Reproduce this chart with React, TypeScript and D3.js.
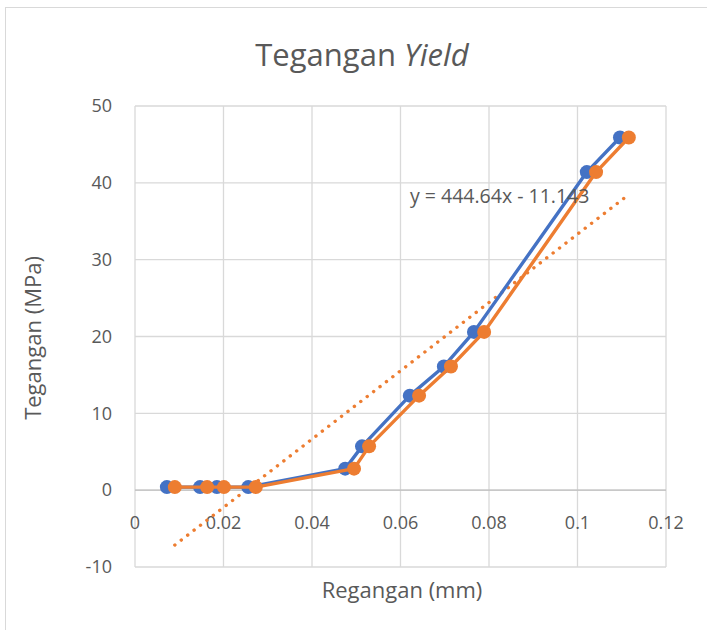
import React, { useEffect, useRef } from "react";
import * as d3 from "d3";

// Regangan (x) and Tegangan (y)
const blueX = [0.0072, 0.0147, 0.0185, 0.0256, 0.0475, 0.0513, 0.0621, 0.0698, 0.0766, 0.1021, 0.1096];
const blueY = [0.4, 0.4, 0.4, 0.4, 2.8, 5.7, 12.3, 16.1, 20.6, 41.4, 45.9];
const orangeX = [0.0090, 0.0163, 0.0201, 0.0273, 0.0495, 0.0529, 0.0642, 0.0714, 0.0789, 0.1042, 0.1116];
const orangeY = [0.4, 0.4, 0.4, 0.4, 2.8, 5.7, 12.3, 16.1, 20.6, 41.4, 45.9];

// trendline of the orange series
const slope = 444.64;
const intercept = -11.143;

const xTicks = [0, 0.02, 0.04, 0.06, 0.08, 0.1, 0.12];
const yTicks = [-10, 0, 10, 20, 30, 40, 50];

const width = 707;
const height = 630;
const margin = { top: 106, right: 41, bottom: 63, left: 135 };
const font = "'Open Sans', sans-serif";
const textColor = "#595959";

const drawChart = (svgEl: SVGSVGElement) => {
    const svg = d3.select(svgEl);
    svg.selectAll("*").remove();

    const x = d3.scaleLinear().domain([0, 0.12]).range([margin.left, width - margin.right]);
    const y = d3.scaleLinear().domain([-10, 50]).range([height - margin.bottom, margin.top]);

    // chart frame
    svg.append("rect")
        .attr("x", 5.5).attr("y", 7.5)
        .attr("width", 760).attr("height", 700)
        .attr("fill", "white").attr("stroke", "#d9d9d9");

    // gridlines
    svg.append("g").selectAll("line").data(yTicks).enter().append("line")
        .attr("x1", x(0)).attr("x2", x(0.12))
        .attr("y1", d => y(d)).attr("y2", d => y(d))
        .attr("stroke", "#d9d9d9").attr("stroke-width", 1.3);
    svg.append("g").selectAll("line").data(xTicks).enter().append("line")
        .attr("x1", d => x(d)).attr("x2", d => x(d))
        .attr("y1", y(-10)).attr("y2", y(50))
        .attr("stroke", "#d9d9d9").attr("stroke-width", 1.3);

    // axis line at y = 0
    svg.append("line")
        .attr("x1", x(0)).attr("x2", x(0.12))
        .attr("y1", y(0)).attr("y2", y(0))
        .attr("stroke", "#bfbfbf").attr("stroke-width", 1.3);

    // tick labels
    svg.append("g").selectAll("text").data(yTicks).enter().append("text")
        .attr("x", x(0) - 23).attr("y", d => y(d)).attr("dy", "0.35em")
        .attr("text-anchor", "end")
        .attr("font-family", font).attr("font-size", 18).attr("fill", textColor)
        .text(d => d);
    svg.append("g").selectAll("text").data(xTicks).enter().append("text")
        .attr("x", d => x(d)).attr("y", y(0) + 39)
        .attr("text-anchor", "middle")
        .attr("font-family", font).attr("font-size", 18).attr("fill", textColor)
        .text(d => d);

    // trendline (dotted)
    const tx = d3.extent(orangeX) as [number, number];
    svg.append("line")
        .attr("x1", x(tx[0])).attr("y1", y(slope * tx[0] + intercept))
        .attr("x2", x(tx[1])).attr("y2", y(slope * tx[1] + intercept))
        .attr("stroke", "#ed7d31").attr("stroke-width", 3.4)
        .attr("stroke-linecap", "round").attr("stroke-dasharray", "0.1 8");

    const line = d3.line<[number, number]>().x(d => x(d[0])).y(d => y(d[1]));
    const series = [
        { xs: blueX, ys: blueY, color: "#4472c4" },
        { xs: orangeX, ys: orangeY, color: "#ed7d31" },
    ];
    series.forEach(s => {
        const pts = s.xs.map((v, i) => [v, s.ys[i]] as [number, number]);
        svg.append("path").datum(pts)
            .attr("d", line).attr("fill", "none")
            .attr("stroke", s.color).attr("stroke-width", 3.4)
            .attr("stroke-linejoin", "round");
        svg.append("g").selectAll("circle").data(pts).enter().append("circle")
            .attr("cx", d => x(d[0])).attr("cy", d => y(d[1])).attr("r", 7)
            .attr("fill", s.color);
    });

    // equation label
    svg.append("text")
        .attr("x", 410).attr("y", 203)
        .attr("font-family", font).attr("font-size", 19.5).attr("fill", textColor)
        .text(`y = ${slope}x - ${Math.abs(intercept)}`);

    // title
    const title = svg.append("text")
        .attr("x", 362).attr("y", 66).attr("text-anchor", "middle")
        .attr("font-family", font).attr("font-size", 31).attr("fill", textColor);
    title.append("tspan").text("Tegangan ");
    title.append("tspan").attr("font-style", "italic").text("Yield");

    // axis titles
    svg.append("text")
        .attr("x", 402).attr("y", 598).attr("text-anchor", "middle")
        .attr("font-family", font).attr("font-size", 22).attr("fill", textColor)
        .text("Regangan (mm)");
    svg.append("text")
        .attr("transform", `translate(41, ${338}) rotate(-90)`)
        .attr("text-anchor", "middle")
        .attr("font-family", font).attr("font-size", 22).attr("fill", textColor)
        .text("Tegangan (MPa)");
};

export default function App() {
    const ref = useRef<SVGSVGElement>(null);
    useEffect(() => {
        if (ref.current) drawChart(ref.current);
    }, []);
    return (
        <svg ref={ref} width={width} height={height}
            style={{ position: "absolute", left: 0, top: 0 }} />
    );
}
